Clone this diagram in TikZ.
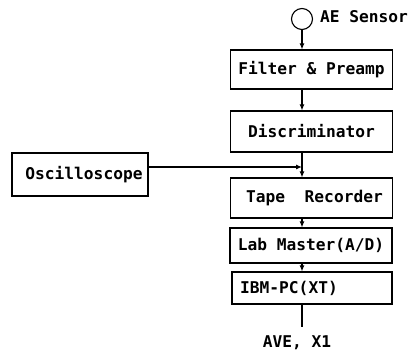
\documentclass[tikz,border=0pt]{standalone}
\usepackage{fontspec}
\setmonofont{DejaVu Sans Mono}
\usetikzlibrary{arrows.meta}
\begin{document}
\begin{tikzpicture}[x=1pt,y=1pt]
\tikzstyle{every node}+=[inner sep=0pt]
\tikzstyle{txt}=[font=\ttfamily\bfseries\fontsize{16.2}{19}\selectfont]
\tikzstyle{block}=[txt, draw=black, line width=1.1pt, minimum width=162pt, minimum height=39pt]
\tikzstyle{link}=[black, line width=1.1pt, -{Latex[length=6pt,width=5pt]}]
\useasboundingbox (0,0) rectangle (410,-355);
\node [circle, draw=black, line width=1.1pt, minimum size=21pt] (sensor) at (302,-19) {};
\node [txt, anchor=west] (sensorlabel) at (320,-17) {AE Sensor};
\node [block] (filter) at (311.5,-69.5) {Filter \& Preamp};
\node [block, minimum height=41pt] (disc) at (311.5,-131.5) {Discriminator};
\node [block, minimum width=136pt, minimum height=43pt] (scope) at (80,-174.5) {\kern8pt Oscilloscope};
\node [block, minimum height=40pt] (tape) at (311.5,-198) {\kern6pt Tape\ \ Recorder};
\node [block, minimum height=35pt] (lab) at (311,-245.5) {Lab Master(A/D)};
\node [block, minimum width=160pt, minimum height=32pt] (pc) at (312,-288) {IBM-PC(XT)\kern46pt};
\coordinate (join) at (302,-167);
\coordinate (out) at (302,-327);
\node [txt] (result) at (297,-343) {AVE, X1};
\draw [link] (sensor.south) -- (filter.north -| sensor);
\draw [link] (filter.south -| sensor) -- (disc.north -| sensor);
\draw [link] (disc.south -| sensor) -- (tape.north -| sensor);
\draw [link] (scope.east |- join) -- (join);
\draw [link] (tape.south -| sensor) -- (lab.north -| sensor);
\draw [link] (lab.south -| sensor) -- (pc.north -| sensor);
\draw [black, line width=1.1pt] (pc.south -| sensor) -- (out);
\end{tikzpicture}
\end{document}
